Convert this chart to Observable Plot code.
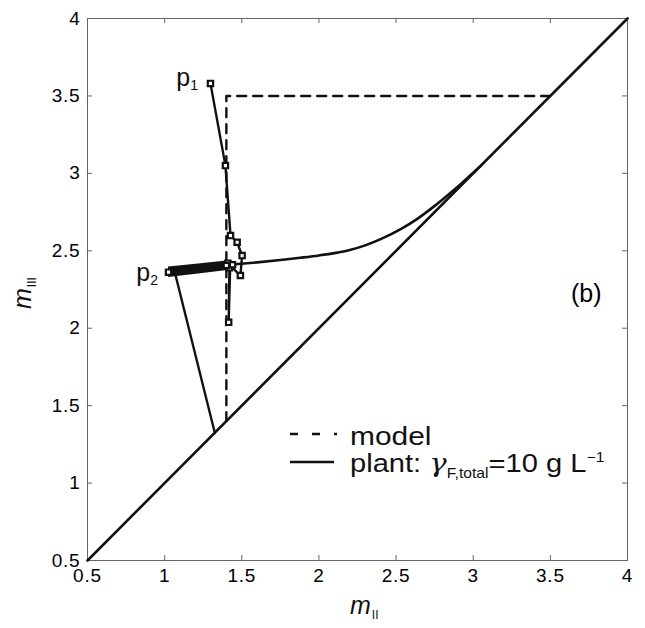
<!DOCTYPE html>
<html>
<head>
<meta charset="utf-8">
<script src="https://cdn.jsdelivr.net/npm/d3@7"></script>
<script src="https://cdn.jsdelivr.net/npm/@observablehq/plot@0.6"></script>
<style>
  body { margin: 0; background: #fff; }
  svg { display: block; }
</style>
</head>
<body>
<div id="chart"></div>
<script>
// ---- data ----
const xTicks = [0.5, 1, 1.5, 2, 2.5, 3, 3.5, 4];
const yTicks = [0.5, 1, 1.5, 2, 2.5, 3, 3.5, 4];

// diagonal m_III = m_II
const diagX = [0.5, 4];
const diagY = [0.5, 4];

// model triangle (dashed)
const modelX = [1.4, 1.4, 3.5];
const modelY = [1.4, 3.5, 3.5];

// plant region boundary: left edge from diagonal up to p2
const plantLeftX = [1.325, 1.07];
const plantLeftY = [1.325, 2.345];

// plant region boundary: upper curve from operating point to the diagonal
const plantCurveX = [1.42, 1.6, 1.75, 1.88, 2.0, 2.1, 2.2, 2.3, 2.4, 2.53, 2.64, 2.74, 2.85, 2.92, 2.98, 3.05];
const plantCurveY = [2.41, 2.425, 2.44, 2.455, 2.47, 2.485, 2.505, 2.535, 2.575, 2.64, 2.708, 2.782, 2.872, 2.932, 2.986, 3.05];

// thick trajectory band from p2 to the operating point
const bandX  = [1.025, 1.22, 1.42];
const bandY1 = [2.328, 2.35, 2.375];
const bandY2 = [2.396, 2.414, 2.435];

// trajectory from p1 (markers)
const trajX = [1.297, 1.394, 1.427, 1.470, 1.502, 1.491, 1.425, 1.415, 1.42];
const trajY = [3.581, 3.050, 2.598, 2.555, 2.469, 2.340, 2.405, 2.038, 2.41];

// square markers
const markX = [1.297, 1.394, 1.427, 1.470, 1.502, 1.491, 1.415, 1.025, 1.41, 1.43, 1.42, 1.44, 1.40];
const markY = [3.581, 3.050, 2.598, 2.555, 2.469, 2.340, 2.038, 2.362, 2.42, 2.40, 2.39, 2.41, 2.405];

// point labels
const pLabels = [{x: 1.297, y: 3.581, t: "p", s: "1"}, {x: 1.025, y: 2.362, t: "p", s: "2"}];

const toPts = (xs, ys) => xs.map((x, i) => ({x, y: ys[i]}));
const fmt = d => String(d);

const chart = Plot.plot({
  width: 645,
  height: 628,
  marginLeft: 87,
  marginRight: 18,
  marginTop: 18,
  marginBottom: 68,
  x: {domain: [0.5, 4]},
  y: {domain: [0.5, 4]},
  style: {fontFamily: "'Liberation Sans', Arial, sans-serif", fontSize: "19px", color: "#000", background: "#fff"},
  marks: [
    Plot.frame({stroke: "#666", strokeWidth: 1}),
    Plot.axisX(xTicks, {tickSize: 0, tickPadding: 8, tickFormat: fmt, label: null, fontSize: 19}),
    Plot.axisY(yTicks, {tickSize: 0, tickPadding: 7, tickFormat: fmt, label: null, fontSize: 19}),
    Plot.tickX(xTicks, {x: d => d, insetTop: 537, stroke: "#666"}),
    Plot.tickX(xTicks, {x: d => d, insetBottom: 537, stroke: "#666"}),
    Plot.tickY(yTicks, {y: d => d, insetRight: 535, stroke: "#666"}),
    Plot.tickY(yTicks, {y: d => d, insetLeft: 535, stroke: "#666"}),
    Plot.line(toPts(diagX, diagY), {x: "x", y: "y", stroke: "#111", strokeWidth: 2.6}),
    Plot.line(toPts(modelX, modelY), {x: "x", y: "y", stroke: "#111", strokeWidth: 2.4, strokeDasharray: "9,7"}),
    Plot.line(toPts(plantLeftX, plantLeftY), {x: "x", y: "y", stroke: "#111", strokeWidth: 2.4}),
    Plot.line(toPts(plantCurveX, plantCurveY), {x: "x", y: "y", stroke: "#111", strokeWidth: 2.6, curve: "monotone-x"}),
    Plot.areaY(bandX.map((x, i) => ({x, y1: bandY1[i], y2: bandY2[i]})), {x: "x", y1: "y1", y2: "y2", fill: "#111"}),
    Plot.line(toPts(trajX, trajY), {x: "x", y: "y", stroke: "#111", strokeWidth: 2.4}),
    Plot.dot(toPts(markX, markY), {x: "x", y: "y", symbol: "square", r: 3, fill: "#fff", stroke: "#111", strokeWidth: 2.2}),
    Plot.text(["(b)"], {frameAnchor: "right", dx: -26, dy: 4, textAnchor: "end", fontSize: 25, text: d => d})
  ]
});

document.getElementById("chart").appendChild(chart);

// ---- text with sub/superscripts and in-plot legend (added after rendering) ----
const svg = d3.select(chart);
svg.selectAll('[aria-label="x-axis tick label"] text, [aria-label="y-axis tick label"] text')
  .attr("letter-spacing", "0.8px");
const ff = "'Liberation Sans', Arial, sans-serif";
const sx = v => 87 + (v - 0.5) / 3.5 * 540;
const sy = v => 560 - (v - 0.5) / 3.5 * 542;
const ann = svg.append("g").attr("text-anchor", "start").attr("font-family", ff).attr("fill", "#111");

// point labels p1, p2
pLabels.forEach((p, i) => {
  const t = ann.append("text")
    .attr("x", sx(p.x) - (i === 0 ? 12 : 10))
    .attr("y", sy(p.y) + (i === 0 ? 3 : 9))
    .attr("text-anchor", "end")
    .attr("font-size", 25);
  t.append("tspan").text(p.t);
  t.append("tspan").attr("font-size", 14).attr("dy", 4).text(p.s);
});

// x-axis title
const xt = ann.append("text").attr("x", 350).attr("y", 614).attr("font-size", 25);
xt.append("tspan").attr("font-style", "italic").text("m");
xt.append("tspan").attr("font-size", 12).attr("dy", 5).attr("dx", 1).text("II");

// y-axis title
const yt = ann.append("text").attr("transform", "translate(31,309) rotate(-90)").attr("font-size", 25);
yt.append("tspan").attr("font-style", "italic").text("m");
yt.append("tspan").attr("font-size", 12).attr("dy", 5).attr("dx", 1).text("III");

// legend
ann.append("line").attr("x1", 290).attr("x2", 337).attr("y1", 434).attr("y2", 434)
  .attr("stroke", "#111").attr("stroke-width", 2.4).attr("stroke-dasharray", "8,14");
ann.append("text").attr("transform", "translate(350,445) scale(1.15,1)").attr("font-size", 26).text("model");
ann.append("line").attr("x1", 290).attr("x2", 334).attr("y1", 462).attr("y2", 462)
  .attr("stroke", "#111").attr("stroke-width", 2.4);
const pt = ann.append("text").attr("transform", "translate(350,472) scale(1.12,1)").attr("font-size", 26);
pt.append("tspan").text("plant: ");
pt.append("tspan").attr("font-style", "italic").attr("font-family", "'DejaVu Serif', serif").text("γ");
pt.append("tspan").attr("font-size", 14).attr("dy", 6).text("F,total");
pt.append("tspan").attr("dy", -6).text("=10 g L");
pt.append("tspan").attr("font-size", 14).attr("dy", -10).text("−1");
</script>
</body>
</html>
